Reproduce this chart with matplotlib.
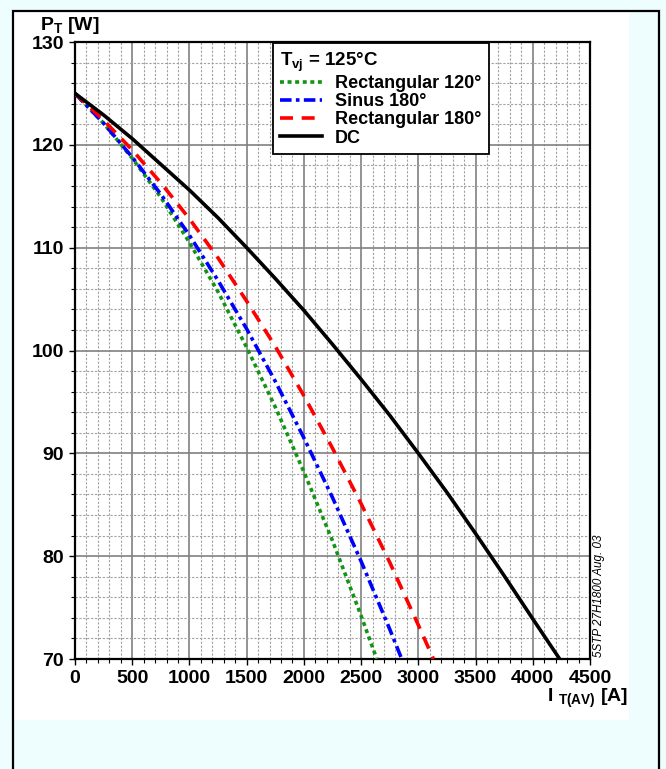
import matplotlib.pyplot as plt
from matplotlib.patches import Rectangle
from matplotlib.ticker import MultipleLocator

plt.rcParams['font.family'] = ['Liberation Sans', 'DejaVu Sans']
plt.rcParams['font.weight'] = 'bold'
plt.rcParams['mathtext.fontset'] = 'custom'
plt.rcParams['mathtext.rm'] = 'Liberation Sans:bold'
plt.rcParams['mathtext.it'] = 'Liberation Sans:bold'
plt.rcParams['mathtext.bf'] = 'Liberation Sans:bold'

# Curves at the grid columns (I_T(AV) in A, P_T in W)
rect120_i = [0, 250, 500, 750, 1000, 1250, 1500, 1750, 2000, 2250, 2500, 2637]
rect120_p = [125, 122.1, 118.7, 114.9, 110.5, 105.7, 100.3, 94.5, 88.2, 81.5, 74.2, 70]
sinus180_i = [0, 250, 500, 750, 1000, 1250, 1500, 1750, 2000, 2250, 2500, 2750, 2855]
sinus180_p = [125, 122.1, 118.8, 115.2, 111.2, 106.8, 102.1, 97.0, 91.5, 85.7, 79.5, 72.9, 70]
rect180_i = [0, 250, 500, 750, 1000, 1250, 1500, 1750, 2000, 2250, 2500, 2750, 3000, 3132]
rect180_p = [125, 122.4, 119.5, 116.3, 112.8, 109.0, 104.8, 100.4, 95.6, 90.5, 85.1, 79.4, 73.3, 70]
dc_i = [0, 250, 500, 750, 1000, 1250, 1500, 1750, 2000, 2250, 2500, 2750, 3000,
        3250, 3500, 3750, 4000, 4235]
dc_p = [125, 122.9, 120.6, 118.1, 115.6, 112.9, 110.0, 107.0, 103.9, 100.6, 97.2, 93.7, 90.0,
        86.2, 82.2, 78.1, 73.9, 70]

W, H = 666, 769
fig = plt.figure(figsize=(W / 100, H / 100), dpi=100, facecolor='#eefefe')

# white sheet and black frame behind the chart
fig.patches.append(Rectangle((13 / W, 1 - 720 / H), 616 / W, 708 / H,
                             transform=fig.transFigure, facecolor='white',
                             edgecolor='none', zorder=-2))
fig.patches.append(Rectangle((13 / W, -0.05), 646 / W, 1.05 - 11 / H,
                             transform=fig.transFigure, facecolor='none',
                             edgecolor='black', lw=1.6, zorder=-1))

ax = fig.add_axes([75 / W, 1 - 659 / H, 515 / W, 617 / H])
ax.set_facecolor('white')

ax.plot(rect120_i, rect120_p, color='#149414', lw=2.6, linestyle=(0, (1.1, 1.0)),
        label='Rectangular 120°', zorder=4)
ax.plot(sinus180_i, sinus180_p, color='#0000ff', lw=2.6,
        linestyle=(0, (3.2, 1.2, 1.0, 1.2)), label='Sinus 180°', zorder=4)
ax.plot(rect180_i, rect180_p, color='#ff0000', lw=2.6, linestyle=(0, (3.6, 2.4)),
        label='Rectangular 180°', zorder=4)
ax.plot(dc_i, dc_p, color='black', lw=2.6, label='DC', zorder=4)

ax.set_xlim(0, 4500)
ax.set_ylim(70, 130)
ax.xaxis.set_major_locator(MultipleLocator(500))
ax.xaxis.set_minor_locator(MultipleLocator(100))
ax.yaxis.set_major_locator(MultipleLocator(10))
ax.yaxis.set_minor_locator(MultipleLocator(2))

ax.grid(which='major', color='#808080', lw=1.2, zorder=1)
ax.grid(which='minor', color='#a0a0a0', lw=0.8, linestyle=(0, (2, 1.5)), zorder=1)
ax.set_axisbelow(True)

for s in ax.spines.values():
    s.set_linewidth(1.6)
ax.tick_params(which='major', direction='out', length=4, width=1, labelsize=14, pad=4)
ax.tick_params(which='minor', direction='out', length=3, width=0.8)

leg = ax.legend(loc='upper left', bbox_to_anchor=(0.384, 0.998), borderaxespad=0,
                title='T$_\\mathregular{vj}$ = 125°C', alignment='left',
                fancybox=False, edgecolor='black', framealpha=1,
                prop={'size': 13, 'weight': 'bold'}, title_fontproperties={'size': 13.5, 'weight': 'bold'},
                handlelength=2.3, handletextpad=0.75, labelspacing=0.07, borderpad=0.4)
leg.get_frame().set_linewidth(1.3)
leg.set_zorder(6)

fig.text(40 / W, 1 - 30 / H, 'P$_\\mathregular{T}$ [W]', fontsize=14, fontweight='bold',
         ha='left', va='baseline')
fig.text(628 / W, 1 - 702 / H, 'I $_\\mathregular{T(AV)}$ [A]', fontsize=14, fontweight='bold',
         ha='right', va='baseline')
fig.text(599 / W, 1 - 657 / H, '5STP 27H1800 Aug. 03', fontsize=8.4, fontweight='normal',
         style='italic', rotation=90, ha='center', va='bottom')

fig.savefig('out.png', dpi=100, facecolor=fig.get_facecolor())
